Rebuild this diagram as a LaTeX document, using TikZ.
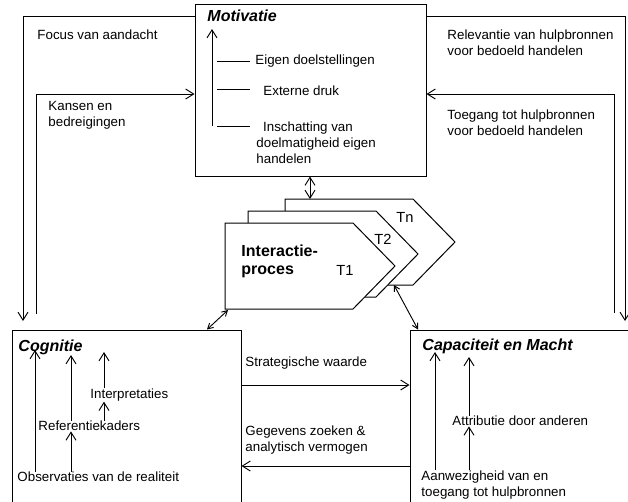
\documentclass[tikz,border=0pt]{standalone}
\usepackage{fontspec}
\setmainfont{Liberation Sans}
\usetikzlibrary{arrows.meta,positioning,calc}

\tikzset{
  box/.style={draw, line width=0.75pt, inner sep=0pt},
  titel/.style={anchor=west, inner sep=0pt, font=\fontsize{12}{14}\selectfont\bfseries\itshape},
  lbl/.style={anchor=west, inner sep=0pt, align=left, font=\fontsize{10}{12}\selectfont},
  arr/.style={-{Straight Barb[length=6pt,width=7.5pt]}},
  darr/.style={{Straight Barb[length=6pt,width=7.5pt]}-{Straight Barb[length=6pt,width=7.5pt]}},
  sarr/.style={{Straight Barb[length=4pt,width=4.5pt]}-{Straight Barb[length=4pt,width=4.5pt]}},
  penta/.style={draw, fill=white, line width=0.75pt},
}

\begin{document}
\begin{tikzpicture}[x=0.75pt, y=-0.75pt, line width=0.7pt]
\useasboundingbox (0,0) rectangle (628,501);
\clip (0,0) rectangle (628,501);

% blokken
\node[box, minimum width=231*0.75pt, minimum height=172*0.75pt] (motiv) at (310.5,90) {};
\node[box, minimum width=229*0.75pt, minimum height=200*0.75pt] (cog) at (126.5,430) {};
\node[box, minimum width=240*0.75pt, minimum height=200*0.75pt] (cap) at (530,430) {};
\node[titel] (mottitle) at (207,16) {Motivatie};
\node[titel] (cogtitle) at (18,347) {Cognitie};
\node[titel] (captitle) at (422,346) {Capaciteit en Macht};

% motivatie
\node[lbl] (eigen) at (255,61) {Eigen doelstellingen};
\node[lbl] (extern) at (263,91) {Externe druk};
\node[lbl] (insch) at (256,143) {\hspace*{5pt}Inschatting van\\doelmatigheid eigen\\handelen};
\coordinate (mottop) at (212,29);
\coordinate (motbot) at (212,126);
\draw[arr] (motbot) -- (mottop);
\foreach \y in {61,89,126}
  \draw (217,\y) -- (250,\y);

% lussen buitenom
\coordinate (focusend) at (23,321);
\coordinate (kansstart) at (36,314);
\coordinate (relevend) at (625,321);
\coordinate (toegstart) at (614,313);
\draw[arr] (motiv.west |- 0,16) -- (focusend |- 0,16) -- (focusend);
\draw[arr] (kansstart) -- (kansstart |- 0,94) -- (motiv.west |- 0,94);
\draw[arr] (motiv.east |- 0,16) -- (relevend |- 0,16) -- (relevend);
\draw[arr] (toegstart) -- (toegstart |- 0,94) -- (motiv.east |- 0,94);
\node[lbl] (focus) at (37,35) {Focus van aandacht};
\node[lbl] (kansen) at (48,115) {Kansen en\\bedreigingen};
\node[lbl] (relev) at (447,43) {Relevantie van hulpbronnen\\voor bedoeld handelen};
\node[lbl] (toegang) at (447,123) {Toegang tot hulpbronnen\\voor bedoeld handelen};

% interactieproces
\foreach \x/\y in {285/199, 248/211, 225/223}
  \draw[penta] (\x,\y) -- ++(128,0) -- ++(42,43) -- ++(-42,43) -- ++(-128,0) -- cycle;
\node[anchor=west, align=left, inner sep=0pt, font=\fontsize{12}{13.5}\selectfont\bfseries] (inter) at (241,261) {Interactie-\\proces};
\node[lbl, anchor=center, font=\fontsize{11}{13}\selectfont] (t1) at (345,270) {T1};
\node[lbl, anchor=center, font=\fontsize{11}{13}\selectfont] (t2) at (383,239) {T2};
\node[lbl, anchor=center, font=\fontsize{11}{13}\selectfont] (tn) at (405,217) {Tn};
\coordinate (tntop) at (310,199);
\coordinate (t1hoek) at (228,310);
\coordinate (tnhoek) at (394,285);
\draw[darr] (motiv.south -| tntop) -- (tntop);
\draw[sarr] (t1hoek) -- (cog.north -| 207,0);
\draw[sarr] (tnhoek) -- (cap.north -| 418,0);

% tussen cognitie en capaciteit
\draw[arr] (cog.east |- 0,385) -- (cap.west |- 0,385);
\draw[arr] (cap.west |- 0,466) -- (cog.east |- 0,466);
\node[lbl] (strat) at (245,363) {Strategische waarde};
\node[lbl] (gegev) at (245,440) {Gegevens zoeken \&\\analytisch vermogen};

% cognitie
\node[lbl] (interp) at (90,395) {Interpretaties};
\node[lbl] (referent) at (38,426) {Referentiekaders};
\node[lbl] (observ) at (17,477) {Observaties van de realiteit};
\draw[arr] (observ.north -| 35,0) -- (35,350);
\draw[arr] (referent.north -| 71,0) -- (71,355);
\draw[arr] (interp.north -| 104,0) -- (104,352);
\draw[arr] (referent.north -| 104,0) -- (interp.south -| 104,0);
\draw[arr] (observ.north -| 71,0) -- (referent.south -| 71,0);

% capaciteit
\node[lbl] (attrib) at (452,421) {Attributie door anderen};
\node[lbl] (aanwez) at (421,485) {Aanwezigheid van en\\toegang tot hulpbronnen};
\draw[arr] (aanwez.north -| 435,0) -- (435,352);
\draw[arr] (attrib.north -| 469,0) -- (469,357);
\draw[arr] (aanwez.north -| 469,0) -- (attrib.south -| 469,0);
\end{tikzpicture}
\end{document}
